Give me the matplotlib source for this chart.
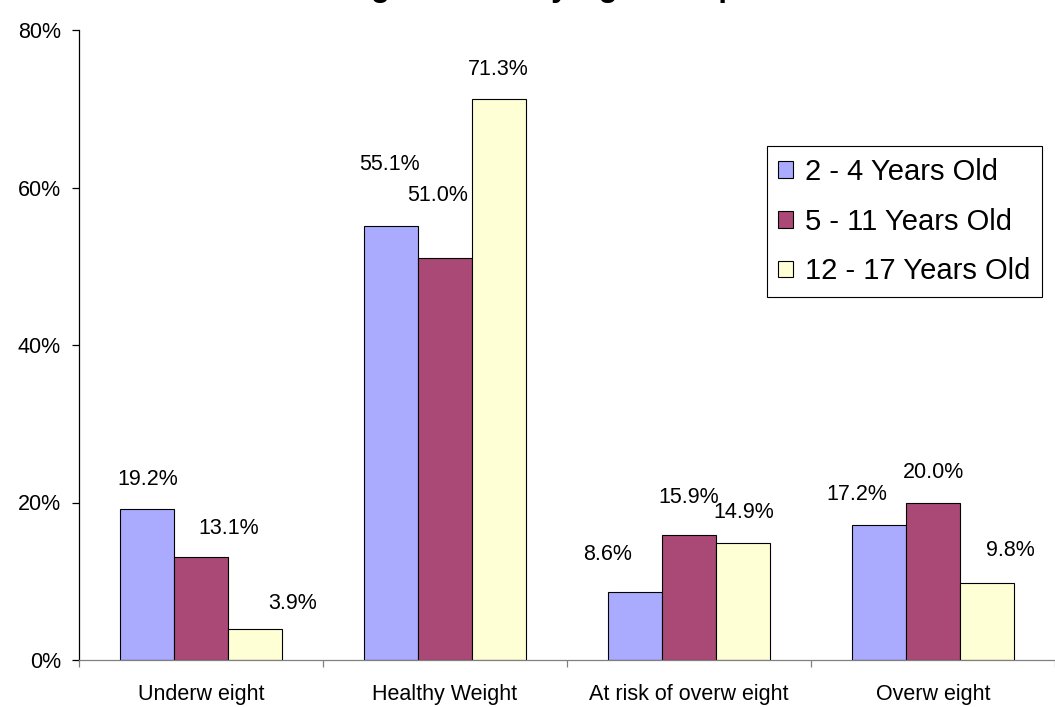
import matplotlib
matplotlib.use("Agg")
import matplotlib.pyplot as plt
import numpy as np

plt.rcParams['font.family'] = ['Liberation Sans', 'DejaVu Sans']

# ---- data ----
title = "Weight Status by Age Group"
categories = ["Underw eight", "Healthy Weight", "At risk of overw eight", "Overw eight"]
series_names = ["2 - 4 Years Old", "5 - 11 Years Old", "12 - 17 Years Old"]
s_2_4 = [19.2, 55.1, 8.6, 17.2]
s_5_11 = [13.1, 51.0, 15.9, 20.0]
s_12_17 = [3.9, 71.3, 14.9, 9.8]
y_ticks = [0, 20, 40, 60, 80]
y_tick_labels = ["0%", "20%", "40%", "60%", "80%"]

# ---- style ----
colors = ["#AAAAFF", "#AA4876", "#FFFFD5"]
# label offsets (pixels) relative to bar center / bar top, per series per category
label_dx = [[0.7, -1.5, -27, -22], [28, -7, 0, 0], [37, -1, 0.5, 23]]
label_dy = [[29, 62, 38, 30], [28, 63, 37, 30], [26, 29, 30, 32]]

W, H = 1055, 707
fig = plt.figure(figsize=(W / 100, H / 100), dpi=100)
ax = fig.add_axes([79 / W, 1 - 660 / H, 1 - 79 / W, (660 - 30) / H])

series = [s_2_4, s_5_11, s_12_17]
n = len(series)
bw = 0.2225
xc = np.arange(len(categories)) + 0.5
px2pt = 0.72
for i, vals in enumerate(series):
    xs = xc + (i - (n - 1) / 2) * bw
    ax.bar(xs, vals, width=bw, color=colors[i], edgecolor="black",
           linewidth=0.8, label=series_names[i], zorder=2)
    for j, (x, v) in enumerate(zip(xs, vals)):
        ax.annotate(f"{v:.1f}%", xy=(x, v),
                    xytext=(label_dx[i][j] * px2pt, label_dy[i][j] * px2pt),
                    textcoords="offset points", ha="center", va="center",
                    fontsize=15.5, color="black")

ax.set_xlim(0, len(categories))
ax.set_ylim(0, 80)

for s in ["top", "right"]:
    ax.spines[s].set_visible(False)
ax.spines["left"].set_color("black")
ax.spines["left"].set_linewidth(0.9)
ax.spines["bottom"].set_color("#808080")
ax.spines["bottom"].set_linewidth(0.9)

ax.set_yticks(y_ticks)
ax.set_yticklabels(y_tick_labels, fontsize=15.5)
ax.tick_params(axis="y", direction="out", length=5, width=0.9, pad=8, colors="black")

ax.set_xticks(np.arange(len(categories) + 1))
ax.set_xticklabels([])
ax.tick_params(axis="x", which="major", direction="out", length=5, width=0.9, color="#808080")
ax.set_xticks(xc, minor=True)
ax.set_xticklabels(categories, minor=True, fontsize=15.5)
ax.tick_params(axis="x", which="minor", length=0, pad=17)

leg = ax.legend(loc="upper right", bbox_to_anchor=(1042 / W, 1 - 146 / H),
                bbox_transform=fig.transFigure, fontsize=21, frameon=True,
                fancybox=False, shadow=False, framealpha=1, edgecolor="black",
                borderpad=0.4, labelspacing=0.75, handlelength=0.51,
                handleheight=0.51, handletextpad=0.4, borderaxespad=0)
leg.get_frame().set_linewidth(0.8)

fig.text(527 / W, 1 + 4 / H, title, ha="center", va="baseline",
         fontsize=22.5, fontweight="bold")

fig.savefig("out.png", dpi=100)
